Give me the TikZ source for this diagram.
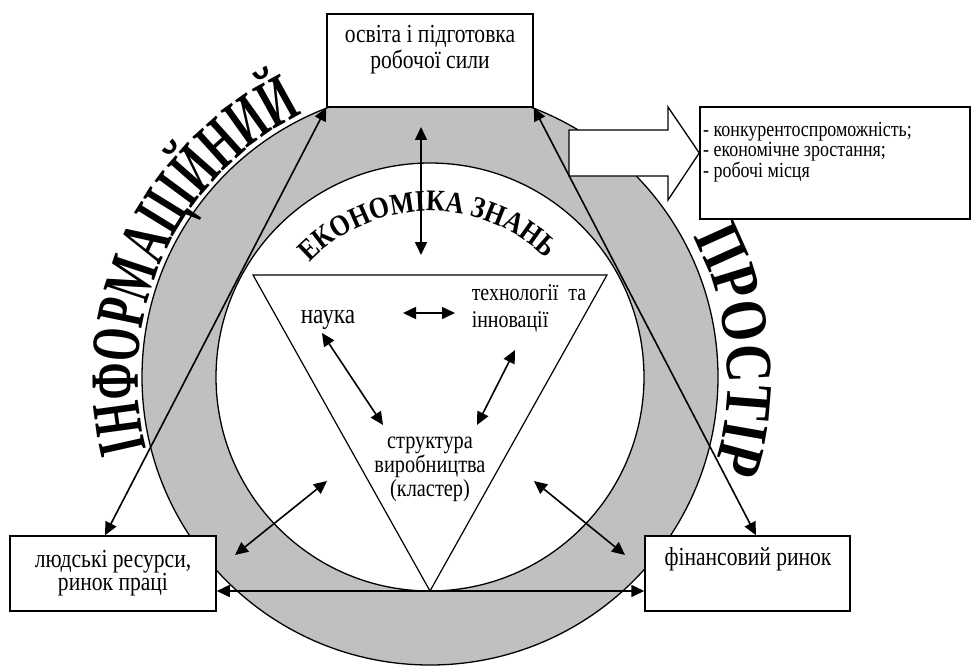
\documentclass[tikz,border=0pt]{standalone}
\usepackage{fontspec}
\setmainfont{Liberation Serif}[FakeStretch=0.83]
\newfontfamily\arcfont{Liberation Serif Bold}[FakeStretch=0.62]
\newfontfamily\arcfontwide{Liberation Serif Bold}[FakeStretch=0.8]
\newfontfamily\arcfontcore{Liberation Serif Bold}[FakeStretch=0.86]
\usepackage{tikz}
\usetikzlibrary{arrows.meta, decorations.text, calc}
\definecolor{ringgray}{RGB}{192,192,192}
\tikzstyle{box} = [rectangle, draw=black, fill=white, line width=1.5pt]
\tikzstyle{txt} = [inner sep=0pt, align=center, font=\fontsize{26}{26}\selectfont]
\tikzstyle{arrow} = [line width=1.6pt, <->, >={Triangle[length=13pt,width=12pt]}]
\tikzstyle{outline} = [line width=1.3pt]

\begin{document}
\begin{tikzpicture}[x=1pt, y=1pt]
\useasboundingbox (0,0) rectangle (972,-666);
\coordinate (C) at (430,-377);

% ring and core
\draw[outline, fill=ringgray] (C) circle (288);
\draw[outline, fill=white] (C) circle (214);

\coordinate (triL) at (253,-275);
\coordinate (triR) at (607,-275);
\coordinate (triB) at (430,-591);
\draw[line width=1.2pt] (triL) -- (triR) -- (triB) -- cycle;

% curved words
\path[decorate, decoration={text along path, text align=center,
  text={|\arcfont\fontsize{69}{69}\selectfont|ІНФОРМАЦІЙНИЙ}}]
  ($(C)+(205:292)$) arc (205:105:292);
\path[decorate, decoration={text along path, text align=center,
  text={|\arcfontwide\fontsize{66}{66}\selectfont|ПРОСТІР}}]
  ($(C)+(40:298)$) arc (40:-30:298);
\path[decorate, decoration={text along path, text align=center,
  text={|\arcfontcore\fontsize{30}{30}\selectfont|ЕКОНОМІКА ЗНАНЬ}}]
  ($(C)+(145:166)$) arc (145:37:166);

% boxes
\node(workforce)[box, minimum width=206pt, minimum height=93pt] at (430,-60.5) {};
\node(workforceTxt)[txt] at (430,-50) {освіта і підготовка\\робочої сили};

\node(results)[box, minimum width=270pt, minimum height=112pt] at (835,-163) {};
\node(resultsTxt)[txt, align=left, anchor=west, font=\fontsize{21.6}{20.5}\selectfont]
  at (703,-152) {- конкурентоспроможність;\\- економічне зростання;\\- робочі місця};

\node(humanres)[box, minimum width=206pt, minimum height=75pt, align=center,
  font=\fontsize{26}{23}\selectfont] at (113,-573.5) {людські ресурси,\\ринок праці};

\node(finmarket)[box, minimum width=205pt, minimum height=75pt] at (747.5,-573.5) {};
\node(finmarketTxt)[txt] at (748,-559) {фінансовий ринок};

% big arrow to results
\draw[outline, fill=white] (569,-130) -- (668,-130) -- (668,-107) -- (results.west |- 0,-153)
  -- (668,-200) -- (668,-176) -- (569,-176) -- cycle;

% triangle texts
\node(science)[txt, font=\fontsize{28}{30}\selectfont] at (328,-320) {наука};
\node(techinno)[txt, align=left, font=\fontsize{24}{27}\selectfont] at (529,-308)
  {технології\ \ та\\інновації};
\node(production)[txt, font=\fontsize{24.5}{24}\selectfont] at (430,-469)
  {структура\\виробництва\\(кластер)};

% arrow ends
\foreach \n/\x/\y in {vTop/421/127, vBot/421/255, hA/403/313, hB/455/313,
  dA/322/333, dB/383/425, eA/515/350, eB/477/425,
  lA/327/481, lB/235/555, rA/534/481, rB/625/555}
  \coordinate (\n) at (\x,-\y);

\draw[arrow] ($(humanres.north)+(-8,0)$) -- (workforce.south west);
\draw[arrow] ($(finmarket.north)+(8.5,0)$) -- (workforce.south east);
\draw[arrow] (humanres.east |- triB) -- (finmarket.west |- triB);
\draw[arrow] (vTop) -- (vBot);
\draw[arrow] (hA) -- (hB);
\draw[arrow] (dA) -- (dB);
\draw[arrow] (eA) -- (eB);
\draw[arrow] (lA) -- (lB);
\draw[arrow] (rA) -- (rB);

\end{tikzpicture}
\end{document}
